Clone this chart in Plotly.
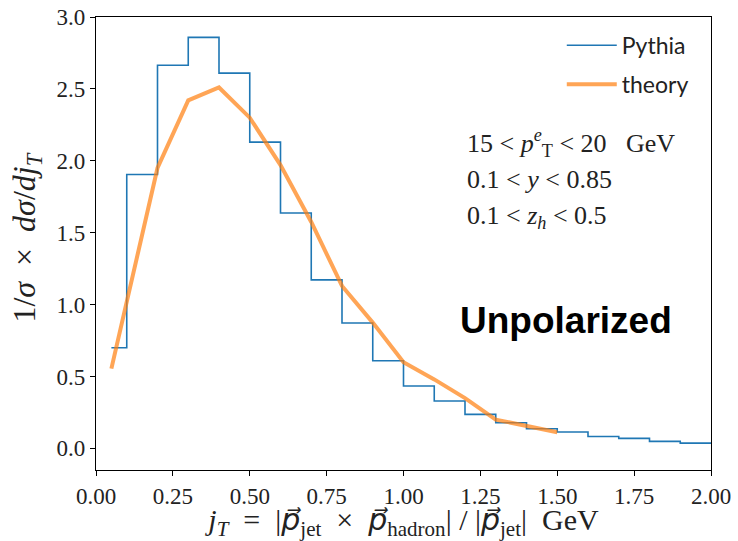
import plotly.graph_objects as go

# Pythia histogram: bin edges and heights
pythia_edges = [0.05, 0.1, 0.2, 0.3, 0.4, 0.5, 0.6, 0.7, 0.8, 0.9, 1.0,
                1.1, 1.2, 1.3, 1.4, 1.5, 1.6, 1.7, 1.8, 1.9, 2.0]
pythia_vals = [0.70, 1.905, 2.665, 2.858, 2.61, 2.13, 1.637, 1.172, 0.872, 0.61,
               0.434, 0.33, 0.237, 0.179, 0.137, 0.114, 0.083, 0.070, 0.049, 0.037]

# theory curve
theory_x = [0.05, 0.1, 0.2, 0.3, 0.4, 0.5, 0.6, 0.7, 0.8, 0.9, 1.0, 1.1, 1.2, 1.3, 1.4, 1.5]
theory_y = [0.555, 1.03, 1.95, 2.42, 2.51, 2.30, 1.97, 1.575, 1.13, 0.875, 0.60, 0.48, 0.35, 0.20, 0.155, 0.113]

x_ticks = [0, 0.25, 0.5, 0.75, 1.0, 1.25, 1.5, 1.75, 2.0]
x_ticklabels = ["0.00", "0.25", "0.50", "0.75", "1.00", "1.25", "1.50", "1.75", "2.00"]
y_ticks = [0, 0.5, 1.0, 1.5, 2.0, 2.5, 3.0]
y_ticklabels = ["0.0", "0.5", "1.0", "1.5", "2.0", "2.5", "3.0"]

cuts = ["15 &lt; <i>p</i><sup><i>e</i></sup><sub>T</sub> &lt; 20 &nbsp;&nbsp;GeV",
        "0.1 &lt; <i>y</i> &lt; 0.85",
        "0.1 &lt; <i>z<sub>h</sub></i> &lt; 0.5"]
cut_pos = [0.721, 0.641, 0.559]

SERIF = "Liberation Serif"
PVEC = '<span style="font-family:DejaVu Sans"><i>p⃗</i></span>'

fig = go.Figure()
fig.add_trace(go.Scatter(
    x=pythia_edges, y=pythia_vals + [pythia_vals[-1]],
    mode="lines", line=dict(color="#1f77b4", width=1.6, shape="hv"),
    name="Pythia", legendgroup="a"))
fig.add_trace(go.Scatter(
    x=theory_x, y=theory_y, mode="lines",
    line=dict(color="rgba(255,127,14,0.7)", width=4),
    name="theory", legendgroup="b"))

fig.update_layout(
    width=738, height=541,
    margin=dict(l=96, r=27, t=17, b=71),
    paper_bgcolor="white", plot_bgcolor="white",
    showlegend=True,
    legend=dict(x=0.972, y=0.985, xanchor="right", yanchor="top",
                bgcolor="rgba(0,0,0,0)", font=dict(family="Lato", size=23, color="#222"),
                itemwidth=50, tracegroupgap=6),
    xaxis=dict(range=[0, 2], tickvals=x_ticks, ticktext=x_ticklabels, automargin=False,
               showgrid=False, zeroline=False, showline=True, mirror=True,
               linecolor="black", linewidth=1.2, ticks="outside", ticklen=5,
               tickcolor="black", tickfont=dict(family=SERIF, size=23, color="#222"),
               title=dict(text="<i>j<sub>T</sub></i> &nbsp;= &nbsp;|" + PVEC + "<sub>jet</sub> &nbsp;× &nbsp;" + PVEC +
                          "<sub>hadron</sub>| / |" + PVEC + "<sub>jet</sub>| &nbsp;GeV",
                          font=dict(family=SERIF, size=30, color="#222"), standoff=1)),
    yaxis=dict(range=[-0.15, 3.0], tickvals=y_ticks, ticktext=y_ticklabels, automargin=False,
               showgrid=False, zeroline=False, showline=True, mirror=True,
               linecolor="black", linewidth=1.2, ticks="outside", ticklen=5,
               tickcolor="black", tickfont=dict(family=SERIF, size=23, color="#222")),
)

# y-axis title placed as rotated annotation
fig.add_annotation(text="1/<i>σ</i> &nbsp;× &nbsp;<i>dσ</i>/<i>dj<sub>T</sub></i>",
                   xref="paper", yref="paper", x=0, y=0.513, xshift=-69,
                   xanchor="center", yanchor="middle", textangle=-90, showarrow=False,
                   font=dict(family=SERIF, size=32, color="#222"))

for t, p in zip(cuts, cut_pos):
    fig.add_annotation(text=t, xref="paper", yref="paper", x=0.6, y=p,
                       xanchor="left", yanchor="middle", showarrow=False,
                       font=dict(family=SERIF, size=26, color="#222"))

fig.add_annotation(text="<b>Unpolarized</b>", xref="paper", yref="paper",
                   x=0.765, y=0.33, xanchor="center", yanchor="middle", showarrow=False,
                   font=dict(family="Liberation Sans", size=37, color="black"))

fig.write_html("out.html")
